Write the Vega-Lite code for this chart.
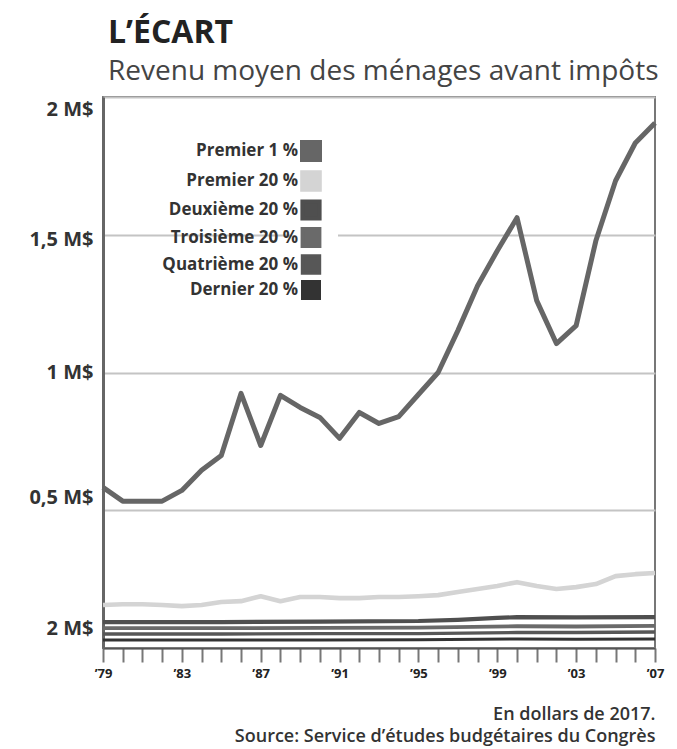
{
  "$schema": "https://vega.github.io/schema/vega-lite/v6.json",
  "autosize": {"type": "none"},
  "width": 552,
  "height": 551,
  "padding": {"left": 103, "top": 97, "right": 22, "bottom": 101},
  "background": "white",
  "config": {
    "font": "Open Sans",
    "view": {"stroke": "#777", "strokeWidth": 2}
  },
  "title": {
    "text": "L’ÉCART",
    "subtitle": "Revenu moyen des ménages avant impôts",
    "anchor": "start",
    "frame": "group",
    "dx": 5,
    "offset": 10,
    "font": "Open Sans",
    "fontSize": 32,
    "fontWeight": "bold",
    "color": "#222",
    "subtitleFont": "Open Sans",
    "subtitleFontSize": 28,
    "subtitleColor": "#444",
    "subtitlePadding": 8
  },
  "data": {
    "values": [
      {"annee": 1979, "groupe": "Premier 1 %", "revenu": 583000},
      {"annee": 1980, "groupe": "Premier 1 %", "revenu": 533000},
      {"annee": 1981, "groupe": "Premier 1 %", "revenu": 533000},
      {"annee": 1982, "groupe": "Premier 1 %", "revenu": 533000},
      {"annee": 1983, "groupe": "Premier 1 %", "revenu": 572000},
      {"annee": 1984, "groupe": "Premier 1 %", "revenu": 645000},
      {"annee": 1985, "groupe": "Premier 1 %", "revenu": 699000},
      {"annee": 1986, "groupe": "Premier 1 %", "revenu": 924000},
      {"annee": 1987, "groupe": "Premier 1 %", "revenu": 735000},
      {"annee": 1988, "groupe": "Premier 1 %", "revenu": 917000},
      {"annee": 1989, "groupe": "Premier 1 %", "revenu": 873000},
      {"annee": 1990, "groupe": "Premier 1 %", "revenu": 837000},
      {"annee": 1991, "groupe": "Premier 1 %", "revenu": 761000},
      {"annee": 1992, "groupe": "Premier 1 %", "revenu": 855000},
      {"annee": 1993, "groupe": "Premier 1 %", "revenu": 815000},
      {"annee": 1994, "groupe": "Premier 1 %", "revenu": 840000},
      {"annee": 1995, "groupe": "Premier 1 %", "revenu": 920000},
      {"annee": 1996, "groupe": "Premier 1 %", "revenu": 1000000},
      {"annee": 1997, "groupe": "Premier 1 %", "revenu": 1152000},
      {"annee": 1998, "groupe": "Premier 1 %", "revenu": 1315000},
      {"annee": 1999, "groupe": "Premier 1 %", "revenu": 1442000},
      {"annee": 2000, "groupe": "Premier 1 %", "revenu": 1562000},
      {"annee": 2001, "groupe": "Premier 1 %", "revenu": 1261000},
      {"annee": 2002, "groupe": "Premier 1 %", "revenu": 1105000},
      {"annee": 2003, "groupe": "Premier 1 %", "revenu": 1170000},
      {"annee": 2004, "groupe": "Premier 1 %", "revenu": 1478000},
      {"annee": 2005, "groupe": "Premier 1 %", "revenu": 1696000},
      {"annee": 2006, "groupe": "Premier 1 %", "revenu": 1833000},
      {"annee": 2007, "groupe": "Premier 1 %", "revenu": 1906000},

      {"annee": 1979, "groupe": "Premier 20 %", "revenu": 156000},
      {"annee": 1980, "groupe": "Premier 20 %", "revenu": 159000},
      {"annee": 1981, "groupe": "Premier 20 %", "revenu": 159000},
      {"annee": 1982, "groupe": "Premier 20 %", "revenu": 156000},
      {"annee": 1983, "groupe": "Premier 20 %", "revenu": 152000},
      {"annee": 1984, "groupe": "Premier 20 %", "revenu": 156000},
      {"annee": 1985, "groupe": "Premier 20 %", "revenu": 167000},
      {"annee": 1986, "groupe": "Premier 20 %", "revenu": 170000},
      {"annee": 1987, "groupe": "Premier 20 %", "revenu": 188000},
      {"annee": 1988, "groupe": "Premier 20 %", "revenu": 170000},
      {"annee": 1989, "groupe": "Premier 20 %", "revenu": 185000},
      {"annee": 1990, "groupe": "Premier 20 %", "revenu": 185000},
      {"annee": 1991, "groupe": "Premier 20 %", "revenu": 181000},
      {"annee": 1992, "groupe": "Premier 20 %", "revenu": 181000},
      {"annee": 1993, "groupe": "Premier 20 %", "revenu": 185000},
      {"annee": 1994, "groupe": "Premier 20 %", "revenu": 185000},
      {"annee": 1995, "groupe": "Premier 20 %", "revenu": 188000},
      {"annee": 1996, "groupe": "Premier 20 %", "revenu": 192000},
      {"annee": 1997, "groupe": "Premier 20 %", "revenu": 203000},
      {"annee": 1998, "groupe": "Premier 20 %", "revenu": 214000},
      {"annee": 1999, "groupe": "Premier 20 %", "revenu": 225000},
      {"annee": 2000, "groupe": "Premier 20 %", "revenu": 239000},
      {"annee": 2001, "groupe": "Premier 20 %", "revenu": 225000},
      {"annee": 2002, "groupe": "Premier 20 %", "revenu": 214000},
      {"annee": 2003, "groupe": "Premier 20 %", "revenu": 221000},
      {"annee": 2004, "groupe": "Premier 20 %", "revenu": 232000},
      {"annee": 2005, "groupe": "Premier 20 %", "revenu": 261000},
      {"annee": 2006, "groupe": "Premier 20 %", "revenu": 268000},
      {"annee": 2007, "groupe": "Premier 20 %", "revenu": 272000},

      {"annee": 1979, "groupe": "Deuxième 20 %", "revenu": 94000},
      {"annee": 1985, "groupe": "Deuxième 20 %", "revenu": 94000},
      {"annee": 1990, "groupe": "Deuxième 20 %", "revenu": 96000},
      {"annee": 1995, "groupe": "Deuxième 20 %", "revenu": 98000},
      {"annee": 1997, "groupe": "Deuxième 20 %", "revenu": 102000},
      {"annee": 1999, "groupe": "Deuxième 20 %", "revenu": 109000},
      {"annee": 2000, "groupe": "Deuxième 20 %", "revenu": 112000},
      {"annee": 2003, "groupe": "Deuxième 20 %", "revenu": 111000},
      {"annee": 2007, "groupe": "Deuxième 20 %", "revenu": 112000},

      {"annee": 1979, "groupe": "Troisième 20 %", "revenu": 72000},
      {"annee": 1985, "groupe": "Troisième 20 %", "revenu": 72000},
      {"annee": 1990, "groupe": "Troisième 20 %", "revenu": 73000},
      {"annee": 1995, "groupe": "Troisième 20 %", "revenu": 74000},
      {"annee": 2000, "groupe": "Troisième 20 %", "revenu": 79000},
      {"annee": 2003, "groupe": "Troisième 20 %", "revenu": 78000},
      {"annee": 2007, "groupe": "Troisième 20 %", "revenu": 80000},

      {"annee": 1979, "groupe": "Quatrième 20 %", "revenu": 51000},
      {"annee": 1985, "groupe": "Quatrième 20 %", "revenu": 51000},
      {"annee": 1990, "groupe": "Quatrième 20 %", "revenu": 52000},
      {"annee": 1995, "groupe": "Quatrième 20 %", "revenu": 52000},
      {"annee": 2000, "groupe": "Quatrième 20 %", "revenu": 56000},
      {"annee": 2003, "groupe": "Quatrième 20 %", "revenu": 56000},
      {"annee": 2007, "groupe": "Quatrième 20 %", "revenu": 58000},

      {"annee": 1979, "groupe": "Dernier 20 %", "revenu": 29000},
      {"annee": 1985, "groupe": "Dernier 20 %", "revenu": 29000},
      {"annee": 1990, "groupe": "Dernier 20 %", "revenu": 29000},
      {"annee": 1995, "groupe": "Dernier 20 %", "revenu": 30000},
      {"annee": 2000, "groupe": "Dernier 20 %", "revenu": 33000},
      {"annee": 2003, "groupe": "Dernier 20 %", "revenu": 32000},
      {"annee": 2007, "groupe": "Dernier 20 %", "revenu": 33000}
    ]
  },
  "mark": {"type": "line", "strokeJoin": "round", "strokeCap": "butt"},
  "encoding": {
    "x": {
      "field": "annee",
      "type": "quantitative",
      "scale": {"domain": [1979, 2007], "nice": false, "zero": false},
      "axis": {
        "values": [1979,1980,1981,1982,1983,1984,1985,1986,1987,1988,1989,1990,1991,1992,1993,1994,1995,1996,1997,1998,1999,2000,2001,2002,2003,2004,2005,2006,2007],
        "labelExpr": "(datum.value - 1979) % 4 == 0 ? '’' + slice(toString(datum.value), 2) : ''",
        "labelOverlap": false,
        "labelFont": "Open Sans",
        "labelFontSize": 13,
        "labelFontWeight": "bold",
        "labelColor": "#222",
        "labelPadding": 5,
        "labelFlush": false,
        "grid": false,
        "domainColor": "#555",
        "domainWidth": 2,
        "tickColor": "#777",
        "tickWidth": 2,
        "tickSize": 14,
        "title": ["En dollars de 2017.", "Source: Service d’études budgétaires du Congrès"],
        "titleFont": "Open Sans",
        "titleFontSize": 18,
        "titleFontWeight": 600,
        "titleColor": "#333",
        "titleAnchor": "end",
        "titleAlign": "right",
        "titleLineHeight": 22,
        "titlePadding": 25
      }
    },
    "y": {
      "field": "revenu",
      "type": "quantitative",
      "scale": {"domain": [0, 2000000], "nice": false},
      "axis": {
        "values": [0, 500000, 1000000, 1500000, 2000000],
        "labelExpr": "datum.value == 0 ? '2 M$' : datum.value == 2000000 ? '2 M$' : replace(format(datum.value / 1000000, '.1~f'), '.', ',') + ' M$'",
        "labelOffset": {"expr": "datum.value == 0 ? -20 : datum.value == 500000 ? -13 : datum.value == 2000000 ? 12 : datum.value == 1500000 ? 5 : 0"},
        "labelFont": "Open Sans",
        "labelFontSize": 20,
        "labelFontWeight": "bold",
        "labelColor": "#333",
        "labelPadding": 10,
        "ticks": false,
        "grid": true,
        "gridColor": "#c4c4c4",
        "gridWidth": 2,
        "domainColor": "#666",
        "domainWidth": 3,
        "title": null
      }
    },
    "color": {
      "field": "groupe",
      "type": "nominal",
      "sort": ["Premier 1 %", "Premier 20 %", "Deuxième 20 %", "Troisième 20 %", "Quatrième 20 %", "Dernier 20 %"],
      "scale": {
        "domain": ["Premier 1 %", "Premier 20 %", "Deuxième 20 %", "Troisième 20 %", "Quatrième 20 %", "Dernier 20 %"],
        "range": ["#666666", "#d4d4d4", "#4f4f4f", "#6a6a6a", "#575757", "#333333"]
      },
      "legend": {
        "title": null,
        "orient": "none",
        "legendX": 189,
        "legendY": 35,
        "padding": 8,
        "fillColor": "white",
        "symbolType": "square",
        "symbolSize": 289,
        "symbolStrokeWidth": 0,
        "labelAlign": "right",
        "labelOffset": -24,
        "labelFont": "Open Sans",
        "labelFontSize": 17,
        "labelFontWeight": "bold",
        "labelColor": "#333",
        "rowPadding": -10,
        "encode": {
          "symbols": {"update": {"fill": {"scale": "color", "field": "value"}, "strokeWidth": {"value": 0}, "opacity": {"value": 1}}}
        }
      }
    },
    "strokeWidth": {
      "field": "groupe",
      "type": "nominal",
      "scale": {
        "domain": ["Premier 1 %", "Premier 20 %", "Deuxième 20 %", "Troisième 20 %", "Quatrième 20 %", "Dernier 20 %"],
        "range": [5, 3, 4, 4, 4, 4]
      },
      "legend": null
    }
  }
}
